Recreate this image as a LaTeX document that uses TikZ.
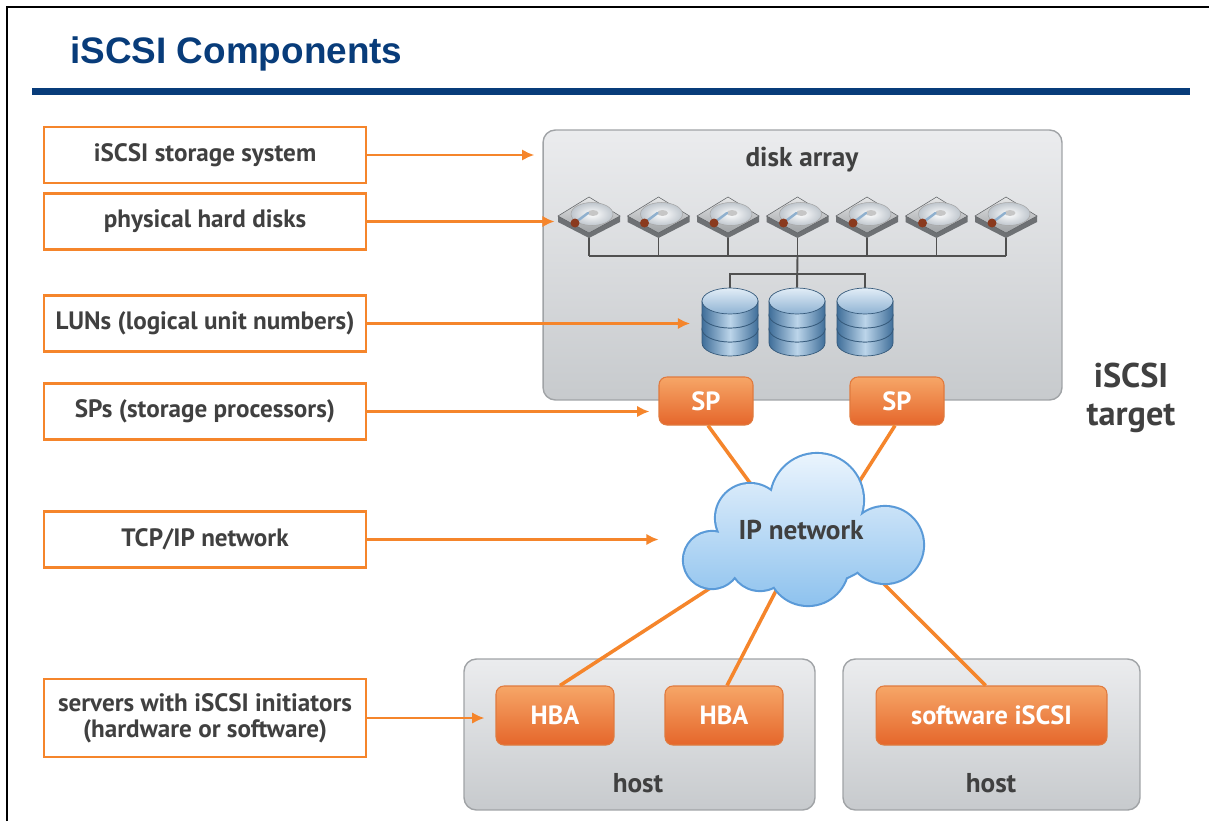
\documentclass[tikz,border=0pt]{standalone}
\usepackage{fontspec}
\setmainfont{PT Sans}
\newfontfamily\headfont{Liberation Sans}
\usetikzlibrary{arrows.meta,calc,positioning}

\definecolor{navy}{HTML}{083C7A}
\definecolor{orng}{HTML}{F5852B}
\definecolor{txt}{HTML}{404040}
\definecolor{boxtop}{HTML}{EBECEE}
\definecolor{boxbot}{HTML}{C7CACD}
\definecolor{boxline}{HTML}{A0A3A6}
\definecolor{btntop}{HTML}{F6A667}
\definecolor{btnbot}{HTML}{E5662B}
\definecolor{btnline}{HTML}{E07A3E}
\definecolor{cloudtop}{HTML}{EAF4FD}
\definecolor{cloudbot}{HTML}{8EC2EE}
\definecolor{cloudline}{HTML}{5A9AD8}
\definecolor{lunedge}{HTML}{3F6E99}
\definecolor{lunmid}{HTML}{BCD5EA}
\definecolor{luntop}{HTML}{E2EDF7}
\definecolor{lunlow}{HTML}{8FB3D3}
\definecolor{lunline}{HTML}{35597A}
\definecolor{wiregray}{HTML}{505050}
\definecolor{hddtop}{HTML}{E6E7E8}
\definecolor{hddmid}{HTML}{9EA1A4}
\definecolor{hddside}{HTML}{6E7174}
\definecolor{hddedge}{HTML}{5E6164}
\definecolor{platter}{HTML}{BFC6CD}
\definecolor{armblue}{HTML}{8FB0CE}
\definecolor{armred}{HTML}{8A3A1E}

\tikzset{
  lbl/.style={draw=orng, line width=1.6pt, fill=white, minimum width=6.44cm,
    minimum height=1.12cm, inner sep=0pt, align=center, text=txt,
    font=\fontsize{14.3}{14.7}\selectfont\bfseries},
  ptr/.style={draw=orng, line width=1.6pt, -{Latex[length=7pt,width=6.5pt]}},
  link/.style={draw=orng, line width=2pt},
  btn/.style={rounded corners=4.5pt, top color=btntop, bottom color=btnbot,
    draw=btnline, line width=0.6pt, text=white, inner sep=0pt,
    font=\fontsize{15}{17}\selectfont\bfseries},
  tray/.style={rounded corners=7pt, top color=boxtop, bottom color=boxbot,
    draw=boxline, line width=0.8pt, inner sep=0pt},
  wire/.style={draw=wiregray, line width=1.1pt},
  caption/.style={text=txt, font=\fontsize{15.5}{18}\selectfont\bfseries},
}

\def\cloudpath{(817,500) circle (0.92cm) (750,518) circle (0.68cm)
  (712,560) circle (0.56cm) (808,565) circle (0.8cm) (885,545) circle (0.76cm)
  (760,560) circle (0.6cm) (805,545) ellipse (1.4cm and 0.8cm)}

\begin{document}
\begin{tikzpicture}[x=0.02cm, y=-0.02cm]
\useasboundingbox (0,0) rectangle (1209,821);
\fill[white] (0,0) rectangle (1209,821);
\draw[line width=1.2pt] (7,821) -- (7,7) -- (1209,7);

\node[anchor=base west, text=navy, inner sep=0pt,
  font=\headfont\fontsize{21}{24}\selectfont\bfseries] (title) at (70,64) {iSCSI Components};
\fill[navy] (32,88) rectangle (1190,95);

% storage system
\node[tray, minimum width=10.38cm, minimum height=5.4cm] (array) at (802.5,265) {};
\node[caption] (arraylbl) at (802,160) {disk array};

\foreach \i in {1,...,7}
	{
		\pgfmathsetmacro\dx{589+69.5*(\i-1)}
		\node[minimum width=1.24cm, minimum height=0.8cm, inner sep=0pt] (d\i) at (\dx,217) {};
		\draw[wire] (d\i.south) -- ++(0,19);
		\begin{scope}[shift={(d\i.center)}]
			\fill[hddside] (-31,-1) -- (-31,5) -- (0,21) -- (31,5) -- (31,-1) -- cycle;
			\shade[top color=hddtop, bottom color=hddmid, draw=hddedge, line width=0.3pt]
				(-31,-1) -- (0,-20) -- (31,-1) -- (0,16) -- cycle;
			\shade[inner color=white, outer color=platter, draw=gray!70, line width=0.3pt]
				(3,-3) ellipse (0.42cm and 0.23cm);
			\fill[gray!45] (4,-4) ellipse (0.11cm and 0.06cm);
			\draw[armblue, line width=1.4pt, line cap=round] (-13,5) -- (-1,-4);
			\fill[armred] (-14,6) circle (0.09cm);
		\end{scope}
	}
\draw[wire] ($(d1.south)+(0,19)$) -- ($(d7.south)+(0,19)$);

\foreach \lx [count=\i] in {730,797,865}
	{
		\node[minimum width=1.14cm, minimum height=1.38cm, inner sep=0pt] (l\i) at (\lx,322.5) {};
	}
\draw[wire] ($(d4.south)+(0,19)$) -- (l2.north);
\draw[wire] (l1.north) -- ++(0,-14) -| (l3.north);

\foreach \lx in {730,797,865}
	{
		\foreach \ly in {329,315,301}
			{
				\draw[lunline, line width=0.4pt, left color=lunedge, right color=lunedge, middle color=lunmid]
					(\lx-28,\ly) -- (\lx-28,\ly+14)
					arc[start angle=180, end angle=360, x radius=0.56cm, y radius=0.26cm]
					-- (\lx+28,\ly) -- cycle;
				\draw[lunline, line width=0.4pt, top color=luntop, bottom color=lunlow]
					(\lx,\ly) ellipse (0.56cm and 0.26cm);
			}
	}

\node[btn, minimum width=1.88cm, minimum height=0.96cm] (sp1) at (706,401) {SP};
\node[btn, minimum width=1.88cm, minimum height=0.96cm] (sp2) at (897,401) {SP};

\node[caption, font=\fontsize{19.5}{22}\selectfont\bfseries, align=center] (target) at (1131,398) {iSCSI\\target};

% hosts
\node[tray, minimum width=7.02cm, minimum height=3.02cm] (host1) at (639.5,734.5) {};
\node[tray, minimum width=5.94cm, minimum height=3.02cm] (host2) at (991.5,734.5) {};
\node[caption] (host1lbl) at (638,783) {host};
\node[caption] (host2lbl) at (991,783) {host};
\node[btn, minimum width=2.36cm, minimum height=1.18cm] (hba1) at (555,715.5) {HBA};
\node[btn, minimum width=2.36cm, minimum height=1.18cm] (hba2) at (724,715.5) {HBA};
\node[btn, minimum width=4.62cm, minimum height=1.18cm] (swi) at (991.5,715.5) {software iSCSI};

% links into the cloud
\coordinate (in1) at (772,513);
\coordinate (in2) at (840,512);
\coordinate (in3) at (735,572);
\coordinate (in4) at (780,583);
\coordinate (in5) at (875,575);
\draw[link] ($(sp1.south)+(2,0)$) -- (in1);
\draw[link] ($(sp2.south)+(-2,0)$) -- (in2);
\draw[link] ($(hba1.north)+(5,0)$) -- (in3);
\draw[link] ($(hba2.north)+(3,0)$) -- (in4);
\draw[link] ($(swi.north)+(-6,0)$) -- (in5);

\draw[cloudline, line width=2.4pt] \cloudpath;
\shade[top color=cloudtop, bottom color=cloudbot] \cloudpath;
\node[caption, minimum width=4.8cm, minimum height=3cm] (cloud) at (801,530) {IP network};

% legend boxes
\node[lbl] (lb1) at (205,155) {iSCSI storage system};
\node[lbl] (lb2) at (205,221.5) {physical hard disks};
\node[lbl] (lb3) at (205,323.5) {LUNs (logical unit numbers)};
\node[lbl] (lb4) at (205,411.5) {SPs (storage processors)};
\node[lbl] (lb5) at (205,539.5) {TCP/IP network};
\node[lbl, minimum height=1.56cm] (lb6) at (205,718) {servers with iSCSI initiators\\(hardware or software)};

\draw[ptr, shorten >=0.16cm] (lb1.east) -- (lb1.east -| array.west);
\draw[ptr, shorten >=0.06cm] (lb2.east) -- (lb2.east -| d1.west);
\draw[ptr, shorten >=0.22cm] (lb3.east) -- (lb3.east -| l1.west);
\draw[ptr, shorten >=0.18cm] (lb4.east) -- (lb4.east -| sp1.west);
\draw[ptr, shorten >=0.44cm] (lb5.east) -- (lb5.east -| cloud.west);
\draw[ptr, shorten >=0.22cm] (lb6.east) -- (lb6.east -| hba1.west);

\end{tikzpicture}
\end{document}
